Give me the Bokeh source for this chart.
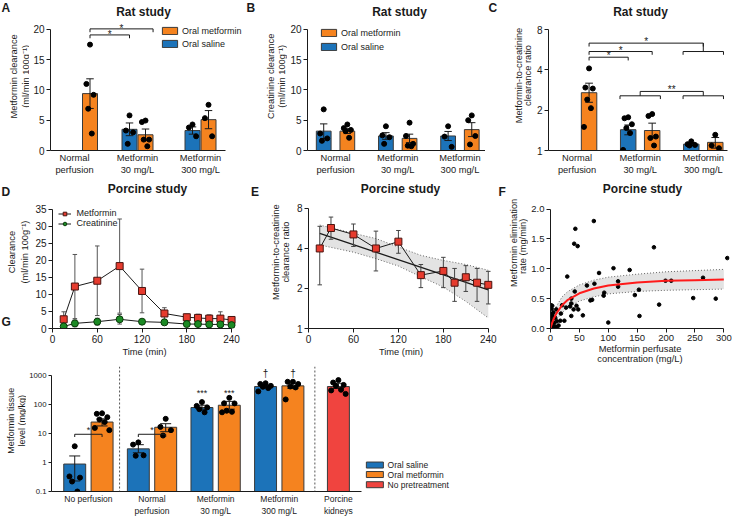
import math
from bokeh.plotting import figure
from bokeh.models import Range1d, FixedTicker, Label, Legend, LegendItem, Span
from bokeh.layouts import column, row
from bokeh.core.properties import value
from bokeh.embed import file_html
from bokeh.resources import INLINE

FONT = "Liberation Sans"
INK = "#1a1a1a"
ORANGE = "#F5831F"
BLUE = "#1C73B9"
RED = "#F0443F"
BAR_LINE = "#3a3a3a"
SQ_RED = "#E63B2E"
GREEN = "#1B8A24"
BAND = "#e3e3e3"

# ---------------- data ----------------
rat_groups = ["Normal\nperfusion", "Metformin\n30 mg/L", "Metformin\n300 mg/L"]

# A: metformin clearance (ml/min 100g-1): mean, SEM, individual rats
a_met_mean = [9.4, 2.6, 5.1]
a_met_sem = [2.45, 0.95, 1.5]
a_met_pts = [[17.5, 11.0, 9.2, 6.9, 2.8], [4.95, 4.7, 1.8, 1.8, 0.7], [7.55, 5.35, 2.35]]
a_sal_mean = [3.5, 3.3]          # 30 and 300 mg/L groups
a_sal_sem = [1.05, 0.6]
a_sal_pts = [[5.8, 3.3, 3.0, 1.1], [4.3, 3.8, 2.35]]

# B: creatinine clearance
b_met_mean = [3.2, 2.0, 3.45]
b_met_sem = [0.4, 0.7, 1.15]
b_met_pts = [[4.3, 3.7, 3.4, 3.2, 2.1], [4.6, 2.4, 1.1, 0.8, 0.7], [5.8, 5.0, 2.4, 1.0]]
b_sal_mean = [3.2, 2.4, 2.4]
b_sal_sem = [1.2, 0.55, 0.75]
b_sal_pts = [[6.8, 2.8, 2.0, 1.6], [4.0, 2.5, 2.2, 1.1], [4.0, 2.3, 0.6]]

# C: metformin-to-creatinine clearance ratio
c_met_mean = [2.7, 1.41, 1.15]
c_met_lo = [2.29, 1.24, 1.04]
c_met_hi = [3.18, 1.6, 1.25]
c_met_pts = [[4.1, 2.95, 2.9, 2.4, 2.07, 1.5], [1.87, 1.81, 1.27, 1.24, 1.09], [1.31, 1.09, 1.04]]
c_sal_mean = [1.43, 1.115]
c_sal_lo = [1.31, 1.09]
c_sal_hi = [1.55, 1.14]
c_sal_pts = [[1.77, 1.74, 1.57, 1.47, 1.35, 1.01], [1.17, 1.115, 1.1, 1.09]]

# D: porcine clearance over time
d_time = [15, 30, 60, 90, 120, 150, 180, 195, 210, 225, 240]
d_met = [2.7, 12.3, 14.0, 18.3, 11.0, 4.4, 3.3, 3.1, 2.9, 2.9, 2.5]
d_met_err = [2.2, 9.4, 10.2, 13.8, 6.4, 1.7, 0.9, 1.1, 1.1, 2.0, 0.9]
d_cre = [0.6, 1.5, 2.0, 2.7, 2.0, 1.8, 1.3, 1.3, 1.2, 1.2, 1.0]
d_cre_err = [0.3, 1.0, 1.0, 1.4, 0.6, 0.5, 0.4, 0.4, 0.4, 0.4, 0.4]

# E: ratio over time with regression line and band
e_time = [15, 30, 60, 90, 120, 150, 180, 195, 210, 225, 240]
e_ratio = [4.0, 5.7, 5.1, 4.0, 4.5, 2.52, 2.71, 2.21, 2.43, 2.21, 2.13]
e_lo = [2.13, 4.69, 4.14, 2.71, 3.68, 2.03, 2.03, 1.60, 1.90, 1.60, 1.53]
e_hi = [5.87, 6.89, 6.11, 5.40, 5.46, 3.03, 3.43, 2.83, 2.97, 2.83, 2.69]
e_fit_t = [15, 240]
e_fit = [5.2, 1.95]
e_band_t = [15, 60, 90, 120, 150, 180, 210, 240]
e_band_hi = [6.0, 5.2, 4.75, 4.1, 3.55, 3.25, 3.03, 2.74]
e_band_lo = [4.25, 3.75, 3.35, 2.95, 2.45, 2.05, 1.6, 1.2]

# F: elimination rate vs perfusate concentration
f_conc = [75, 43, 41, 47, 179, 306, 109, 137, 84, 29, 264, 63, 76, 117, 117, 199, 209, 153, 42, 93,
          92, 146, 72, 69, 247, 286, 188, 36, 36, 34, 45, 40, 48, 56, 27, 36, 18, 3, 10, 2,
          154, 100, 1, 3, 3, 0, 6, 11, 3, 9, 17, 11, 24, 3, 6, 14, 8, 5, 20]
f_rate = [1.80, 1.67, 1.42, 1.38, 1.36, 1.18, 1.01, 0.98, 0.93, 0.87, 0.85, 0.72, 0.75, 0.79, 0.70, 0.80, 0.80, 0.65, 0.62, 0.60,
          0.55, 0.56, 0.48, 0.47, 0.51, 0.50, 0.40, 0.50, 0.42, 0.37, 0.38, 0.32, 0.32, 0.22, 0.35, 0.21, 0.25, 0.38, 0.32, 0.33,
          0.21, 0.10, 0.39, 0.24, 0.21, 0.12, 0.09, 0.12, 0.03, 0.03, 0.13, 0.02, 0.13, 0.14, 0.02, 0.05, 0.18, 0.27, 0.39]
f_fit_c = [0, 2, 5, 10, 20, 30, 50, 75, 100, 150, 200, 250, 300]
f_fit = [0, 0.07, 0.15, 0.25, 0.39, 0.48, 0.59, 0.67, 0.72, 0.77, 0.80, 0.81, 0.82]
f_band_hi = [0.02, 0.12, 0.24, 0.37, 0.53, 0.62, 0.73, 0.81, 0.86, 0.91, 0.95, 0.97, 0.99]
f_band_lo = [0, 0.03, 0.07, 0.14, 0.26, 0.35, 0.46, 0.53, 0.58, 0.62, 0.64, 0.65, 0.66]

# G: tissue levels (mg/kg)
g_groups = ["No perfusion", "Normal\nperfusion", "Metformin\n30 mg/L", "Metformin\n300 mg/L", "Porcine\nkidneys"]
g_sal_mean = [0.88, 2.93, 77.5, 408]
g_sal_lo = [0.23, 2.15, 68, 370]
g_sal_hi = [1.67, 4.08, 92.8, 450]
g_sal_pts = [[3.6, 0.33, 0.3, 0.22, 0.1], [4.9, 4.1, 1.75, 1.7], [119, 88, 78, 68, 53], [530, 500, 430, 400, 361, 277]]
g_met_mean = [24.5, 16.2, 92.8, 430]
g_met_lo = [18, 11.4, 68, 350]
g_met_hi = [31.6, 21.5, 126, 530]
g_met_pts = [[49, 47, 36, 30, 24.5, 15.4, 12.9], [31.6, 16.7, 12.9, 8.4], [167, 108, 107, 60, 55, 53],
             [595, 595, 500, 408, 380, 147]]
g_pig_mean = [408]
g_pig_lo = [350]
g_pig_hi = [530]
g_pig_pts = [[680, 560, 464, 430, 316, 300, 228]]
g_legend = ["Oral saline", "Oral metformin", "No pretreatment"]

# ---------------- helpers ----------------
JIT = [0.0, -0.24, 0.24, -0.12, 0.12, -0.33, 0.33]
ROT = math.pi / 2


def strip(w, h):
    """A text-only figure used for panel letters and y-axis titles (y grows downward)."""
    s = figure(width=w, height=h, x_range=Range1d(0, w), y_range=Range1d(h, 0),
               x_axis_type=None, y_axis_type=None, output_backend="svg", toolbar_location=None,
               min_border_left=0, min_border_right=0, min_border_top=0, min_border_bottom=0)
    s.outline_line_color = None
    s.grid.visible = False
    s.background_fill_color = "white"
    s.border_fill_color = "white"
    return s


def stext(s, txt, x, y, size="9.3px", bold=False, angle=0.0, align="center", baseline="middle"):
    s.text(x=[x], y=[y], text=[txt], angle=angle, text_font=value(FONT), text_font_size=size,
           text_font_style="bold" if bold else "normal", text_align=align, text_baseline=baseline,
           text_color=INK)


class Panel:
    def __init__(self, fx, fy, w, h, bl, br, bb, xr, yr, ylog=False, tick_size="10px"):
        self.fl = fx + bl            # frame left (page px)
        self.fb = fy + h - bb        # frame bottom (page px)
        p = figure(width=w, height=h, x_range=Range1d(*xr), y_range=Range1d(*yr),
                   y_axis_type="log" if ylog else "linear",
                   output_backend="svg", toolbar_location=None,
                   min_border_left=bl, min_border_right=br, min_border_top=0, min_border_bottom=bb)
        p.outline_line_color = None
        p.xgrid.visible = False
        p.ygrid.visible = False
        p.background_fill_color = "white"
        p.border_fill_color = "white"
        for ax in p.axis:
            ax.axis_line_color = INK
            ax.axis_line_width = 1
            ax.major_tick_line_color = INK
            ax.major_tick_out = 4
            ax.major_tick_in = 0
            ax.minor_tick_line_color = None
            ax.minor_tick_out = 0
            ax.major_label_text_font = FONT
            ax.major_label_text_font_size = tick_size
            ax.major_label_text_color = INK
            ax.major_label_standoff = 2
            ax.axis_label_text_font = FONT
            ax.axis_label_text_font_style = "normal"
            ax.axis_label_text_font_size = "9.3px"
            ax.axis_label_text_color = INK
            ax.axis_label_standoff = 1
        self.p = p

    def title(self, s, px, py, size="12px"):
        self.p.add_layout(Label(x=px - self.fl, y=self.fb - py, x_units="screen", y_units="screen",
                                text=s, text_align="center", text_baseline="middle", text_font=FONT,
                                text_font_size=size, text_font_style="bold", text_color=INK))


def category_axis(p, ticks, labels, size):
    ax = p.xaxis[0]
    ax.ticker = FixedTicker(ticks=ticks)
    ax.major_label_overrides = {t: l for t, l in zip(ticks, labels)}
    ax.major_tick_line_color = None
    ax.major_tick_out = 0
    ax.major_label_text_font_size = size


def errbars(p, xs, lo, hi, cap, color=INK):
    p.segment(x0=xs, y0=lo, x1=xs, y1=hi, line_color=color, line_width=1)
    p.segment(x0=[x - cap / 2 for x in xs], y0=hi, x1=[x + cap / 2 for x in xs], y1=hi,
              line_color=color, line_width=1)
    p.segment(x0=[x - cap / 2 for x in xs], y0=lo, x1=[x + cap / 2 for x in xs], y1=lo,
              line_color=color, line_width=1)


def bar_series(p, xs, means, lo, hi, pts, color, bw, base, dot=5):
    r = p.vbar(x=xs, top=means, bottom=base, width=bw, fill_color=color,
               line_color=BAR_LINE, line_width=1)
    errbars(p, xs, lo, hi, bw * 0.5)
    px, py = [], []
    for x, vals in zip(xs, pts):
        for i, v in enumerate(vals):
            px.append(x + JIT[i % len(JIT)] * bw)
            py.append(v)
    p.scatter(px, py, size=dot, fill_color="black", line_color="black")
    return r


def bracket(p, x0, x1, y, drop):
    p.segment(x0=[x0, x0, x1], y0=[y, y, y], x1=[x1, x0, x1], y1=[y, drop, drop],
              line_color=INK, line_width=1)


def stars(p, xs, ys, s, size="10px", dy=2):
    p.text(x=xs, y=ys, text=[s] * len(xs), text_font=value(FONT), text_font_size=size,
           text_align="center", text_baseline="middle", y_offset=dy, text_color=INK)


def legend(p, items, loc, gw, gh, spacing, standoff, size):
    lg = Legend(items=[LegendItem(label=l, renderers=r) for l, r in items], location=loc,
                orientation="vertical", glyph_width=gw, glyph_height=gh, label_height=gh,
                label_width=10, label_standoff=standoff, spacing=spacing, padding=0, margin=0,
                border_line_color=None, background_fill_alpha=0, label_text_font=FONT,
                label_text_font_size=size, label_text_color=INK)
    p.add_layout(lg)


def pm(means, sems, sign):
    return [m + sign * s for m, s in zip(means, sems)]


# ================= row 1 (rat study) =================
SA = strip(29, 180)
stext(SA, "A", 1, 9.5, "12px", bold=True, align="left", baseline="alphabetic")
stext(SA, "Metformin clearance", 13.3, 91, angle=ROT)
stext(SA, "(ml/min 100g\u207b\u00b9)", 25, 91, angle=ROT)

A = Panel(29, 0, 216, 180, 21, 0, 30, (-0.381, 2.714), (0, 24.79))
pa = A.p
A_SAL, A_MET, A_MET0, A_BW = -0.127, 0.127, 0.246, 0.238
a_mx = [g + (A_MET0 if g == 0 else A_MET) for g in range(3)]
a_sx = [g + A_SAL for g in (1, 2)]
ra_m = bar_series(pa, a_mx, a_met_mean, pm(a_met_mean, a_met_sem, -1), pm(a_met_mean, a_met_sem, 1),
                  a_met_pts, ORANGE, A_BW, 0)
ra_s = bar_series(pa, a_sx, a_sal_mean, pm(a_sal_mean, a_sal_sem, -1), pm(a_sal_mean, a_sal_sem, 1),
                  a_sal_pts, BLUE, A_BW, 0)
category_axis(pa, [0, 1, 2], rat_groups, "9.3px")
pa.xaxis.bounds = (-0.381, 2.397)
pa.yaxis.ticker = FixedTicker(ticks=[0, 5, 10, 15, 20])
pa.yaxis.bounds = (0, 20)
bracket(pa, a_mx[0], a_sx[0], 19.1, 18.55)
bracket(pa, a_mx[0], a_mx[1] + 0.12, 20.1, 19.55)
stars(pa, [(a_mx[0] + a_sx[0]) / 2, (a_mx[0] + a_mx[1] + 0.12) / 2], [19.5, 20.5], "*")
legend(pa, [("Oral metformin", [ra_m]), ("Oral saline", [ra_s])], (110, 101.5), 19, 9, 3, 3, "9px")
A.title("Rat study", 143, 11)

SB = strip(42, 180)
stext(SB, "B", 1, 9.5, "12px", bold=True, align="left", baseline="alphabetic")
stext(SB, "Creatinine clearance", 25, 91, angle=ROT)
stext(SB, "(ml/min 100g\u207b\u00b9)", 36.7, 91, angle=ROT)

B = Panel(287, 0, 198, 180, 17, 0, 30, (-0.4506, 2.411), (0, 24.79))
pb = B.p
B_OFF, B_BW = 0.19, 0.237
b_mx = [g + B_OFF for g in range(3)]
b_sx = [g - B_OFF for g in range(3)]
rb_s = bar_series(pb, b_sx, b_sal_mean, pm(b_sal_mean, b_sal_sem, -1), pm(b_sal_mean, b_sal_sem, 1),
                  b_sal_pts, BLUE, B_BW, 0)
rb_m = bar_series(pb, b_mx, b_met_mean, pm(b_met_mean, b_met_sem, -1), pm(b_met_mean, b_met_sem, 1),
                  b_met_pts, ORANGE, B_BW, 0)
category_axis(pb, [0, 1, 2], rat_groups, "9.3px")
pb.yaxis.ticker = FixedTicker(ticks=[0, 5, 10, 15, 20])
pb.yaxis.bounds = (0, 20)
legend(pb, [("Oral metformin", [rb_m]), ("Oral saline", [rb_s])], (12, 98.5), 19, 9, 4, 3, "9px")
B.title("Rat study", 396, 11)

SC = strip(47, 180)
stext(SC, "C", 3, 9.5, "12px", bold=True, align="left", baseline="alphabetic")
stext(SC, "Metformin-to-creatinine", 33.3, 90, angle=ROT)
stext(SC, "clearance ratio", 42, 90, angle=ROT)

C = Panel(532, 0, 200, 180, 16, 0, 30, (-0.453, 2.463), (1, 13.17), ylog=True)
pc = C.p
C_OFF, C_BW = 0.19, 0.245
c_mx = [g + C_OFF for g in range(3)]
c_sx = [g - C_OFF for g in (1, 2)]
bar_series(pc, c_mx, c_met_mean, c_met_lo, c_met_hi, c_met_pts, ORANGE, C_BW, 1)
bar_series(pc, c_sx, c_sal_mean, c_sal_lo, c_sal_hi, c_sal_pts, BLUE, C_BW, 1)
category_axis(pc, [0, 1, 2], rat_groups, "9.3px")
pc.xaxis.bounds = (-0.453, 2.383)
pc.yaxis.ticker = FixedTicker(ticks=[1, 2, 4, 8])
pc.yaxis.major_label_overrides = {1: "1", 2: "2", 4: "4", 8: "8"}
pc.yaxis.bounds = (1, 8)
SPAN = 0.32
bracket(pc, c_mx[0], c_sx[0], 4.97, 4.70)
bracket(pc, c_mx[0], c_mx[1], 5.48, 5.18)
bracket(pc, c_mx[0], 2.0, 6.33, 5.97)
pc.segment(x0=[2.0], y0=[6.33], x1=[2.0], y1=[5.48], line_color=INK, line_width=1)
bracket(pc, 2 - SPAN, 2 + SPAN, 5.48, 5.18)
bracket(pc, 1 - SPAN, 1 + SPAN, 2.56, 2.42)
bracket(pc, 2 - SPAN, 2 + SPAN, 2.56, 2.42)
bracket(pc, 1.0, 2.0, 2.76, 2.56)
stars(pc, [(c_mx[0] + c_sx[0]) / 2, (c_mx[0] + c_mx[1]) / 2, (c_mx[0] + 2.0) / 2], [5.27, 5.8, 6.75], "*")
stars(pc, [1.5], [2.95], "**")
C.title("Rat study", 640, 11)

# ================= row 2 (porcine study) =================
SD = strip(32, 186)
stext(SD, "D", 1, 14, "12px", bold=True, align="left", baseline="alphabetic")
stext(SD, "Clearance", 11.7, 90, angle=ROT)
stext(SD, "(ml/min 100g\u207b\u00b9)", 24, 90, angle=ROT)
stext(SD, "G", 1, 178, "12px", bold=True, align="left", baseline="alphabetic")

D = Panel(32, 180, 218, 186, 17, 14, 36, (0, 246.6), (0, 43.39))
pdd = D.p
errbars(pdd, d_time, pm(d_met, d_met_err, -1), pm(d_met, d_met_err, 1), 6, color="#555555")
errbars(pdd, d_time, pm(d_cre, d_cre_err, -1), pm(d_cre, d_cre_err, 1), 6, color="#555555")
l_m = pdd.line(d_time, d_met, line_color=INK, line_width=1)
m_m = pdd.scatter(d_time, d_met, marker="square", size=7, fill_color=SQ_RED, line_color="#4a1410")
l_c = pdd.line(d_time, d_cre, line_color=INK, line_width=1)
m_c = pdd.scatter(d_time, d_cre, marker="circle", size=7, fill_color=GREEN, line_color="#0a3a0a")
pdd.xaxis.ticker = FixedTicker(ticks=[0, 60, 120, 180, 240])
pdd.xaxis.bounds = (0, 240)
pdd.xaxis.axis_label = "Time (min)"
pdd.yaxis.ticker = FixedTicker(ticks=[0, 5, 10, 15, 20, 25, 30, 35])
pdd.yaxis.bounds = (0, 35)
legend(pdd, [("Metformin", [l_m, m_m]), ("Creatinine", [l_c, m_c])], (5.5, 100), 13, 9, 0, 6, "9px")
D.title("Porcine study", 144, 190)

SE = strip(43, 186)
stext(SE, "E", 0.5, 14, "12px", bold=True, align="left", baseline="alphabetic")
stext(SE, "Metformin-to-creatinine", 25.7, 90, angle=ROT)
stext(SE, "clearance ratio", 35, 90, angle=ROT)

E = Panel(293, 180, 204, 186, 12, 4, 36, (0, 246.95), (1, 12.98), ylog=True)
pe = E.p
pe.varea(x=e_band_t, y1=e_band_lo, y2=e_band_hi, fill_color=BAND)
pe.line(e_band_t, e_band_hi, line_color="#666666", line_width=1, line_dash="1 2")
pe.line(e_band_t, e_band_lo, line_color="#666666", line_width=1, line_dash="1 2")
pe.line(e_fit_t, e_fit, line_color=INK, line_width=1.3)
errbars(pe, e_time, e_lo, e_hi, 6, color="#444444")
pe.line(e_time, e_ratio, line_color=INK, line_width=1)
pe.scatter(e_time, e_ratio, marker="square", size=7, fill_color=SQ_RED, line_color="#4a1410")
pe.xaxis.ticker = FixedTicker(ticks=[0, 60, 120, 180, 240])
pe.xaxis.bounds = (0, 240)
pe.xaxis.axis_label = "Time (min)"
pe.yaxis.ticker = FixedTicker(ticks=[1, 2, 4, 8])
pe.yaxis.major_label_overrides = {1: "1", 2: "2", 4: "4", 8: "8"}
pe.yaxis.bounds = (1, 8)
E.title("Porcine study", 397, 190)

SF = strip(31, 186)
stext(SF, "F", 1, 14, "12px", bold=True, align="left", baseline="alphabetic")
# rotated titles anchored at their lower end so that they are centred on the frame (page y ~270)
stext(SF, "Metformin elimination", 16.3, 134, angle=ROT, align="left")
stext(SF, "rate (mg/min)", 25.3, 117.5, angle=ROT, align="left")

F = Panel(528, 180, 204, 186, 21, 3, 36, (0, 309.8), (0, 2.479), tick_size="9.5px")
pf = F.p
pf.varea(x=f_fit_c, y1=f_band_lo, y2=f_band_hi, fill_color=BAND)
pf.line(f_fit_c, f_band_hi, line_color="#666666", line_width=1, line_dash="1 2")
pf.line(f_fit_c, f_band_lo, line_color="#666666", line_width=1, line_dash="1 2")
pf.scatter(f_conc, f_rate, size=3.6, fill_color="black", line_color="black")
pf.line(f_fit_c, f_fit, line_color="#FF1A1A", line_width=2)
pf.xaxis.ticker = FixedTicker(ticks=[0, 50, 100, 150, 200, 250, 300])
pf.xaxis.bounds = (0, 300)
pf.xaxis.axis_label = "Metformin perfusate\nconcentration (mg/L)"
pf.xaxis.axis_label_text_line_height = 1.0
pf.xaxis.axis_label_standoff = 0
pf.yaxis.ticker = FixedTicker(ticks=[0, 0.5, 1, 1.5, 2])
pf.yaxis.major_label_overrides = {0: "0.0", 0.5: "0.5", 1: "1.0", 1.5: "1.5", 2: "2.0"}
pf.yaxis.bounds = (0, 2)
F.title("Porcine study", 641, 190)

# ================= row 3 (tissue levels) =================
SG = strip(26, 152)
stext(SG, "Metformin tissue", 10, 66, "9px", angle=ROT)
stext(SG, "level (mg/kg)", 21, 66, "9px", angle=ROT)

G = Panel(26, 366, 706, 152, 23, 0, 23, (-0.58, 10.125), (0.1, 1995), ylog=True, tick_size="7.8px")
pg = G.p
pg.yaxis.major_tick_out = 3
G_OFF, G_BW, G_PIG = 0.215, 0.345, 3.93
g_sx = [g - G_OFF for g in range(4)]
g_mx = [g + G_OFF for g in range(4)]
rg_s = bar_series(pg, g_sx, g_sal_mean, g_sal_lo, g_sal_hi, g_sal_pts, BLUE, G_BW, 0.1)
rg_m = bar_series(pg, g_mx, g_met_mean, g_met_lo, g_met_hi, g_met_pts, ORANGE, G_BW, 0.1)
rg_p = bar_series(pg, [G_PIG], g_pig_mean, g_pig_lo, g_pig_hi, g_pig_pts, RED, G_BW, 0.1)
for loc in (0.49, 3.56):
    pg.add_layout(Span(location=loc, dimension="height", line_color="#555555", line_width=1,
                       line_dash="2 2"))
category_axis(pg, [0, 1, 2, 3, G_PIG], g_groups, "8.5px")
pg.xaxis.bounds = (-0.58, 4.295)
pg.yaxis.ticker = FixedTicker(ticks=[0.1, 1, 10, 100, 1000])
pg.yaxis.major_label_overrides = {0.1: "0.1", 1: "1", 10: "10", 100: "100", 1000: "1000"}
pg.yaxis.bounds = (0.1, 1000)
bracket(pg, g_sx[0], g_mx[0], 9.3, 7.5)
bracket(pg, g_sx[1], g_mx[1], 9.3, 7.5)
stars(pg, [0, 1], [14.7, 14.7], "*", "9px")
stars(pg, [g_sx[2], g_mx[2]], [292, 292], "***", "9px")
stars(pg, [g_sx[3], g_mx[3]], [1140, 1140], "\u2020", "10px", dy=0)


# legend of G: page position -> G data coordinates (x: 63.8 px per group, y: 30 px per decade)
def g_xy(px, py):
    return (px - 86) / 63.8, 10 ** (3 - (py - 375) / 30)


leg_rows = [467.7, 477.5, 488.0]
for (lbl, col), py in zip(zip(g_legend, [BLUE, ORANGE, RED]), leg_rows):
    gx, gy = g_xy(373.3, py)
    tx, _ = g_xy(386, py)
    pg.rect(x=[gx], y=[gy], width=17, height=6, width_units="screen", height_units="screen",
            fill_color=col, line_color=BAR_LINE, line_width=1)
    pg.text(x=[tx], y=[gy], text=[lbl], text_font=value(FONT), text_font_size="8.5px",
            text_align="left", text_baseline="middle", text_color=INK)

layout = column(row(SA, A.p, SB, B.p, SC, C.p),
                row(SD, D.p, SE, E.p, SF, F.p),
                row(SG, G.p))
open("out.html", "w").write(file_html(layout, INLINE, title="Metformin clearance"))
